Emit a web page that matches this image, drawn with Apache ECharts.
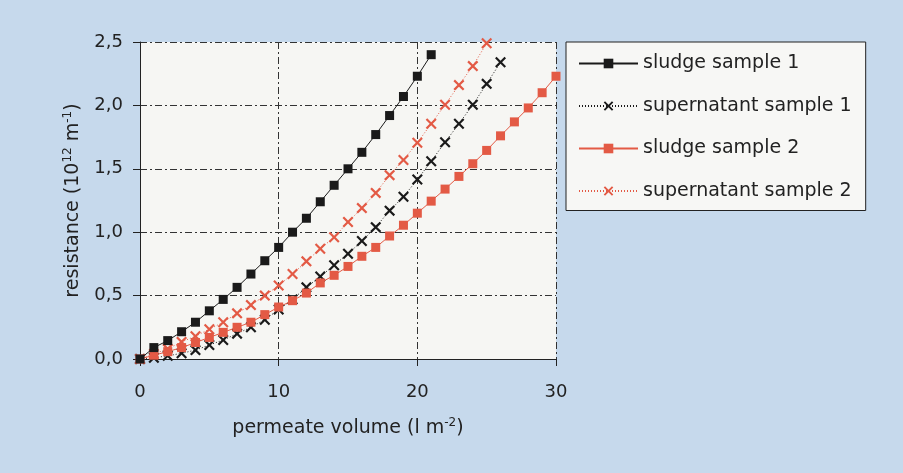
<!DOCTYPE html>
<html>
<head>
<meta charset="utf-8">
<script src="https://cdn.jsdelivr.net/npm/echarts@6/dist/echarts.min.js"></script>
<style>
  html, body { margin: 0; padding: 0; background: #c6d9ec; }
  #chart { width: 903px; height: 473px; }
</style>
</head>
<body>
<div id="chart"></div>
<script>
// permeate volume (l m-2) -> resistance (10^12 m-1)
var sludge1X = [0, 1, 2, 3, 4, 5, 6, 7, 8, 9, 10, 11, 12, 13, 14, 15, 16, 17, 18, 19, 20, 21];
var sludge1Y = [0, 0.09, 0.145, 0.215, 0.29, 0.38, 0.47, 0.565, 0.67, 0.775, 0.88, 1.0, 1.11, 1.24,
                1.37, 1.50, 1.63, 1.77, 1.92, 2.07, 2.23, 2.40];

var super1X = [0, 1, 2, 3, 4, 5, 6, 7, 8, 9, 10, 11, 12, 13, 14, 15, 16, 17, 18, 19, 20, 21, 22, 23, 24, 25, 26];
var super1Y = [0, 0.01, 0.025, 0.045, 0.07, 0.11, 0.15, 0.20, 0.25, 0.31, 0.39, 0.47, 0.565, 0.65,
               0.74, 0.83, 0.93, 1.04, 1.17, 1.28, 1.415, 1.56, 1.71, 1.855, 2.005, 2.17, 2.34];

var sludge2X = [0, 1, 2, 3, 4, 5, 6, 7, 8, 9, 10, 11, 12, 13, 14, 15, 16, 17, 18, 19, 20, 21, 22, 23, 24, 25, 26, 27, 28, 29, 30];
var sludge2Y = [0, 0.03, 0.058, 0.09, 0.13, 0.17, 0.21, 0.25, 0.29, 0.35, 0.41, 0.46, 0.52, 0.60,
                0.66, 0.73, 0.81, 0.88, 0.97, 1.055, 1.15, 1.245, 1.34, 1.44, 1.54, 1.645, 1.76,
                1.87, 1.98, 2.10, 2.23];

var super2X = [0, 1, 2, 3, 4, 5, 6, 7, 8, 9, 10, 11, 12, 13, 14, 15, 16, 17, 18, 19, 20, 21, 22, 23, 24, 25];
var super2Y = [0, 0.04, 0.08, 0.135, 0.18, 0.235, 0.29, 0.36, 0.425, 0.50, 0.58, 0.67, 0.77, 0.87,
               0.96, 1.08, 1.19, 1.31, 1.45, 1.57, 1.705, 1.855, 2.005, 2.16, 2.31, 2.49];

var seriesNames = ['sludge sample 1', 'supernatant sample 1', 'sludge sample 2', 'supernatant sample 2'];

function pairs(xs, ys) {
    return xs.map(function(x, i) { return [x, ys[i]]; });
}

var RED = '#e35a45';
var BLACK = '#1a1a1a';
var CROSS = 'path://M0,1.4L1.4,0L5,3.6L8.6,0L10,1.4L6.4,5L10,8.6L8.6,10L5,6.4L1.4,10L0,8.6L3.6,5Z';
var gridDash = [7, 3, 2, 3];

var myChart = echarts.init(document.getElementById('chart'));

myChart.setOption({
    backgroundColor: '#c6d9ec',
    animation: false,
    textStyle: {fontFamily: 'DejaVu Sans'},
    grid: {
        left: 140, top: 42, right: 347, bottom: 114,
        show: true, backgroundColor: '#f6f6f3', borderWidth: 0
    },
    legend: {
        orient: 'vertical',
        left: 566, top: 42,
        padding: [12, 14, 10, 12],
        itemWidth: 59, itemHeight: 12,
        itemGap: 23.5,
        backgroundColor: '#f7f7f5',
        borderColor: '#222', borderWidth: 1,
        textStyle: {fontSize: 19, color: '#222', fontFamily: 'DejaVu Sans'},
        data: seriesNames
    },
    xAxis: {
        type: 'value', min: 0, max: 30, interval: 10,
        name: '{t|permeate volume (l m}{s|-2}{t|)}',
        nameLocation: 'middle', nameGap: 58,
        nameTextStyle: {
            rich: {
                t: {fontSize: 19, color: '#222', fontFamily: 'DejaVu Sans'},
                s: {fontSize: 12, color: '#222', fontFamily: 'DejaVu Sans', verticalAlign: 'top', padding: [0, 0, 10, 0]}
            }
        },
        axisLine: {lineStyle: {color: '#222', width: 1}},
        axisTick: {length: 7, lineStyle: {color: '#222'}},
        axisLabel: {margin: 24, fontSize: 18, color: '#222'},
        splitLine: {lineStyle: {color: '#333', type: gridDash, width: 1}}
    },
    yAxis: {
        type: 'value', min: 0, max: 2.5, interval: 0.5,
        name: '{t|resistance (10}{s|12}{t| m}{s|-1}{t|)}',
        nameLocation: 'middle', nameGap: 56,
        nameTextStyle: {
            rich: {
                t: {fontSize: 19, color: '#222', fontFamily: 'DejaVu Sans'},
                s: {fontSize: 12, color: '#222', fontFamily: 'DejaVu Sans', verticalAlign: 'top', padding: [0, 0, 10, 0]}
            }
        },
        axisLine: {show: true, lineStyle: {color: '#222', width: 1}},
        axisTick: {show: true, length: 7, lineStyle: {color: '#222'}},
        axisLabel: {
            margin: 17, fontSize: 18, color: '#222',
            formatter: function(v) { return v.toFixed(1).replace('.', ','); }
        },
        splitLine: {lineStyle: {color: '#333', type: gridDash, width: 1}}
    },
    series: [
        {
            name: seriesNames[0], type: 'line', data: pairs(sludge1X, sludge1Y),
            symbol: 'rect', symbolSize: 9, z: 4,
            itemStyle: {color: BLACK},
            lineStyle: {color: BLACK, width: 1}
        },
        {
            name: seriesNames[1], type: 'line', data: pairs(super1X, super1Y),
            symbol: CROSS, symbolSize: 11, z: 2,
            itemStyle: {color: BLACK},
            lineStyle: {color: BLACK, width: 1, type: [1, 2]}
        },
        {
            name: seriesNames[2], type: 'line', data: pairs(sludge2X, sludge2Y),
            symbol: 'rect', symbolSize: 9, z: 3,
            itemStyle: {color: RED},
            lineStyle: {color: RED, width: 1}
        },
        {
            name: seriesNames[3], type: 'line', data: pairs(super2X, super2Y),
            symbol: CROSS, symbolSize: 11, z: 3,
            itemStyle: {color: RED},
            lineStyle: {color: RED, width: 1, type: [1, 2]}
        }
    ]
});
</script>
</body>
</html>
